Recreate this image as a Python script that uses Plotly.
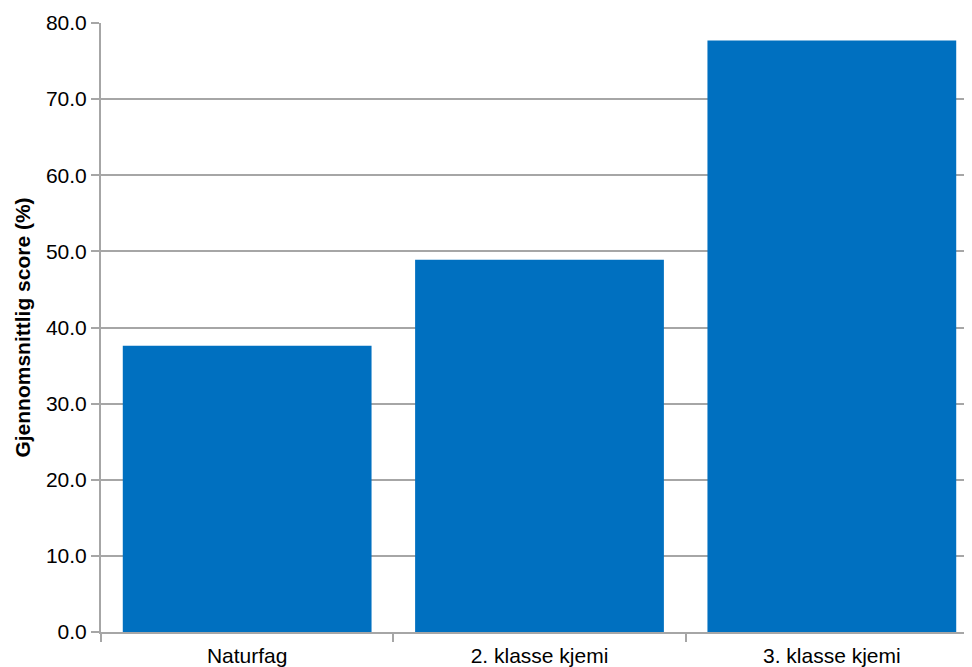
import plotly.graph_objects as go

categories = ["Naturfag", "2. klasse kjemi", "3. klasse kjemi"]
scores = [37.6, 48.9, 77.7]
y_ticks = [0, 10, 20, 30, 40, 50, 60, 70, 80]
y_title = "Gjennomsnittlig score (%)"

font_family = "Liberation Sans, Arial, Helvetica, sans-serif"
grid_col = "#a6a6a6"

fig = go.Figure(
    go.Bar(
        x=categories,
        y=scores,
        marker=dict(color="#0070C0", line=dict(width=0)),
        hoverinfo="x+y",
    )
)

fig.update_layout(
    width=972,
    height=667,
    margin=dict(l=93, r=2, t=15, b=43),
    paper_bgcolor="white",
    plot_bgcolor="white",
    bargap=0.149,
    showlegend=False,
    font=dict(family=font_family, size=21, color="black"),
)

fig.update_xaxes(
    type="category",
    range=[-0.5, 2.5],
    showline=True,
    linecolor=grid_col,
    linewidth=2,
    ticks="outside",
    tickson="boundaries",
    ticklen=8,
    tickwidth=2,
    tickcolor=grid_col,
    showgrid=False,
    tickfont=dict(size=21),
    ticklabelstandoff=4,
    automargin=False,
)

fig.update_yaxes(
    range=[0, 80],
    tickvals=y_ticks,
    tickformat=".1f",
    showline=True,
    linecolor=grid_col,
    linewidth=2,
    ticks="outside",
    ticklen=8,
    tickwidth=2,
    tickcolor=grid_col,
    showgrid=True,
    gridcolor=grid_col,
    gridwidth=2,
    zeroline=False,
    tickfont=dict(size=21),
    title=dict(text="<b>" + y_title + "</b>", font=dict(size=21), standoff=10),
    automargin=False,
)

fig.write_html("out.html")
